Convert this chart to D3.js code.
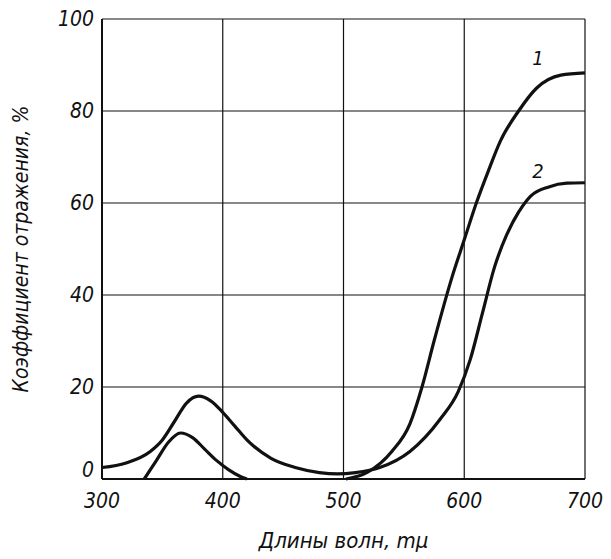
<!DOCTYPE html>
<html>
<head>
<meta charset="utf-8">
<script src="https://cdn.jsdelivr.net/npm/d3@7"></script>
<style>
  body { margin: 0; background: #fff; }
  text { font-family: "DejaVu Sans Condensed", "DejaVu Sans", sans-serif; font-style: italic; fill: #111; }
</style>
</head>
<body>
<div id="chart"></div>
<script>
// wavelength ticks and reflectance ticks
const xTicks = [300, 400, 500, 600, 700];
const yTicks = [0, 20, 40, 60, 80, 100];

// curve 1 (two pieces: UV bump, then red rise)
const curve1a = [[335, 0], [345, 4], [355, 8], [365, 10], [375, 9], [385, 6.5], [395, 4], [405, 2], [415, 0.5], [420, 0]];
const curve1b = [[502, 0], [520, 1.5], [540, 6], [555, 12], [565, 20], [575, 30], [590, 44], [600, 52], [610, 60], [620, 67],
  [630, 73.5], [645, 80], [660, 85], [680, 87.8], [700, 88.3]];
// curve 2
const curve2 = [[300, 2.5], [320, 3.5], [340, 6], [350, 8.5], [360, 12.5], [370, 16.5], [380, 18], [390, 17], [400, 14.5],
  [410, 11.5], [420, 8.5], [440, 4.5], [460, 2.5], [480, 1.4], [495, 1.1], [510, 1.4], [530, 2.5], [555, 6],
  [580, 13], [595, 19], [605, 26], [615, 36], [625, 46], [635, 53], [645, 58], [655, 61.5], [670, 63.5], [685, 64.3], [700, 64.4]];

const labels = [{ t: "1", x: 661, y: 90 }, { t: "2", x: 661, y: 65.5 }];

const width = 611, height = 559;
const x = d3.scaleLinear().domain([300, 700]).range([102, 585]);
const y = d3.scaleLinear().domain([0, 100]).range([479, 19]);

const svg = d3.select("#chart").append("svg")
  .attr("width", width).attr("height", height);

// grid
svg.append("g").selectAll("line").data(xTicks).join("line")
  .attr("x1", d => x(d)).attr("x2", d => x(d))
  .attr("y1", y(0)).attr("y2", y(100))
  .attr("stroke", "#111").attr("stroke-width", d => d === 300 ? 2 : 1.2);
svg.append("g").selectAll("line").data(yTicks).join("line")
  .attr("x1", x(300)).attr("x2", x(700))
  .attr("y1", d => y(d)).attr("y2", d => y(d))
  .attr("stroke", "#111").attr("stroke-width", d => d === 0 ? 2 : 1.2);

// tick labels
svg.append("g").selectAll("text").data(xTicks).join("text")
  .attr("x", d => x(d)).attr("y", 508)
  .attr("text-anchor", "middle").attr("font-size", 21)
  .text(d => d);
svg.append("g").selectAll("text").data(yTicks).join("text")
  .attr("x", x(300) - 8).attr("y", d => y(d) + (d === 0 ? -2 : 7))
  .attr("text-anchor", "end").attr("font-size", 21)
  .text(d => d);

// axis titles
svg.append("text")
  .attr("x", x(500)).attr("y", 548)
  .attr("text-anchor", "middle").attr("font-size", 22)
  .text("Длины волн, mμ");
svg.append("text")
  .attr("transform", `translate(28,${y(50)}) rotate(-90)`)
  .attr("text-anchor", "middle").attr("font-size", 21)
  .text("Коэффициент отражения, %");

// curves
const line = d3.line()
  .x(d => x(d[0])).y(d => y(d[1]))
  .curve(d3.curveMonotoneX);
svg.append("g").selectAll("path").data([curve1a, curve1b, curve2]).join("path")
  .attr("d", line)
  .attr("fill", "none").attr("stroke", "#111").attr("stroke-width", 3.2);

svg.append("g").selectAll("text").data(labels).join("text")
  .attr("x", d => x(d.x)).attr("y", d => y(d.y))
  .attr("text-anchor", "middle").attr("font-size", 20)
  .text(d => d.t);
</script>
</body>
</html>
